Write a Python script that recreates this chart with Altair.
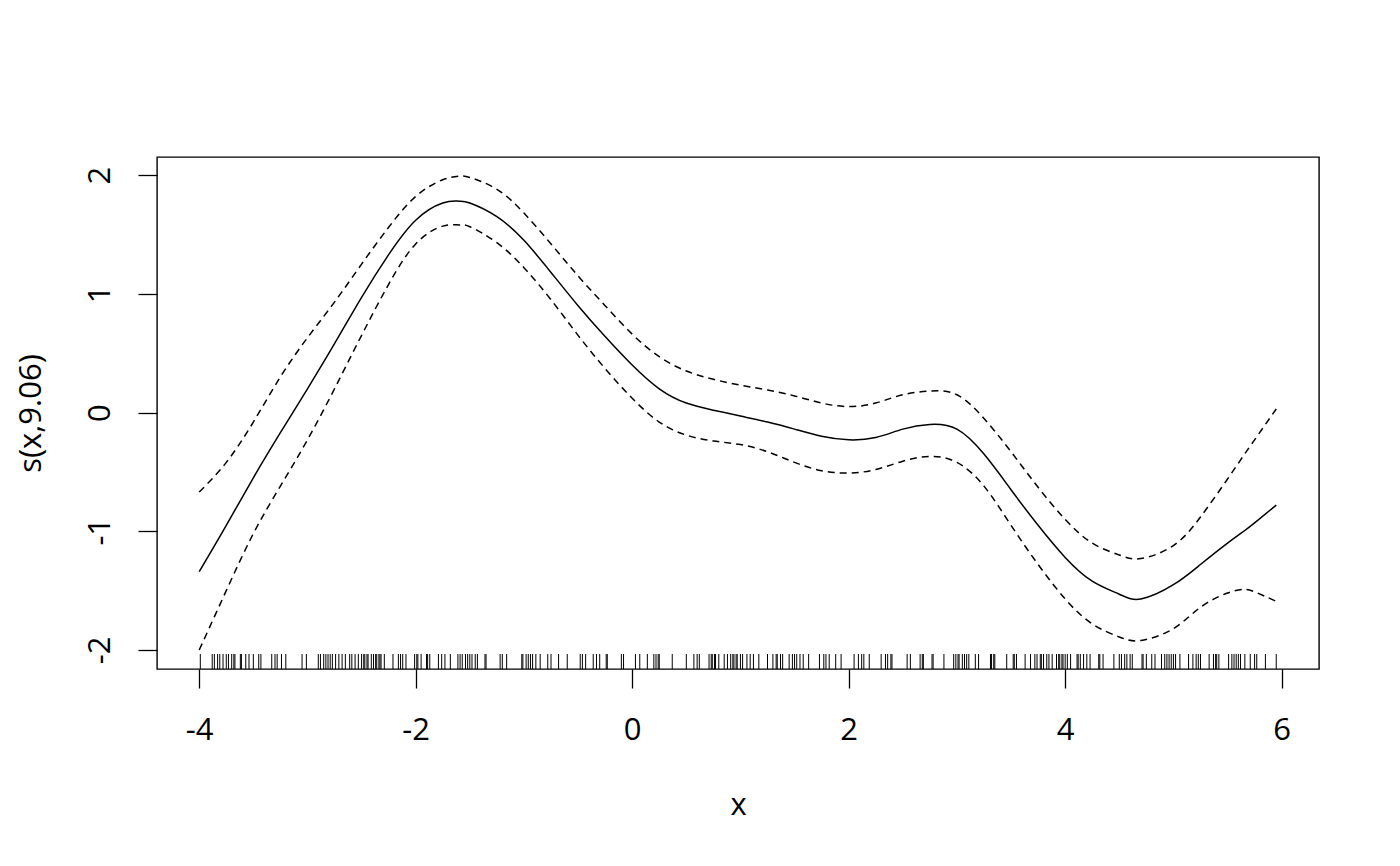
import altair as alt
import pandas as pd

# smooth term s(x, 9.06) and +/- 2 SE bands
x_grid = [-4.0, -3.75, -3.5, -3.25, -3.0, -2.75, -2.5, -2.25, -2.0, -1.75, -1.6, -1.5,
          -1.25, -1.0, -0.75, -0.5, -0.25, 0.0, 0.25, 0.5, 0.75, 1.0, 1.25, 1.5, 1.75,
          2.0, 2.25, 2.5, 2.75, 3.0, 3.25, 3.5, 3.75, 4.0, 4.25, 4.5, 4.7, 5.0, 5.25,
          5.5, 5.65, 5.75, 5.95]
fit = [-1.34, -0.95, -0.55, -0.17, 0.2, 0.58, 0.97, 1.33, 1.62, 1.765, 1.78, 1.765,
       1.65, 1.45, 1.18, 0.9, 0.64, 0.4, 0.2, 0.08, 0.02, -0.03, -0.08, -0.14, -0.2,
       -0.23, -0.21, -0.14, -0.1, -0.14, -0.35, -0.65, -0.95, -1.22, -1.42, -1.53, -1.57,
       -1.45, -1.28, -1.1, -1.0, -0.93, -0.78]
upper = [-0.67, -0.42, -0.08, 0.3, 0.63, 0.93, 1.25, 1.56, 1.82, 1.96, 1.99, 1.98,
         1.88, 1.68, 1.42, 1.15, 0.9, 0.66, 0.47, 0.35, 0.28, 0.23, 0.19, 0.14, 0.08,
         0.05, 0.08, 0.15, 0.18, 0.15, -0.05, -0.33, -0.63, -0.9, -1.1, -1.2, -1.23,
         -1.12, -0.88, -0.56, -0.36, -0.23, 0.03]
lower = [-2.0, -1.5, -1.02, -0.62, -0.23, 0.2, 0.65, 1.08, 1.42, 1.57, 1.58, 1.565,
         1.43, 1.22, 0.95, 0.65, 0.37, 0.12, -0.08, -0.19, -0.24, -0.27, -0.33, -0.42, -0.49,
         -0.51, -0.48, -0.41, -0.37, -0.42, -0.62, -0.95, -1.28, -1.57, -1.78, -1.89, -1.92,
         -1.82, -1.64, -1.52, -1.49, -1.51, -1.59]

# rug of observed x values
rug_x = [-3.99, -3.88, -3.86, -3.83, -3.81, -3.78, -3.75, -3.73, -3.70, -3.68, -3.67,
         -3.62, -3.61, -3.57, -3.54, -3.50, -3.45, -3.43, -3.33, -3.30, -3.28, -3.24,
         -3.20, -3.05, -3.01, -2.90, -2.88, -2.85, -2.83, -2.81, -2.79, -2.77, -2.74,
         -2.71, -2.68, -2.65, -2.61, -2.59, -2.56, -2.53, -2.50, -2.48, -2.47, -2.45,
         -2.44, -2.41, -2.39, -2.37, -2.36, -2.34, -2.33, -2.32, -2.29, -2.21, -2.16,
         -2.14, -2.12, -2.09, -2.01, -1.99, -1.98, -1.95, -1.90, -1.89, -1.87, -1.79,
         -1.76, -1.73, -1.68, -1.61, -1.59, -1.57, -1.54, -1.52, -1.50, -1.48, -1.45,
         -1.43, -1.36, -1.35, -1.22, -1.20, -1.16, -1.02, -1.01, -0.98, -0.96, -0.94,
         -0.92, -0.89, -0.85, -0.78, -0.75, -0.68, -0.60, -0.48, -0.46, -0.43, -0.36,
         -0.33, -0.30, -0.24, -0.23, -0.10, -0.08, 0.03, 0.07, 0.14, 0.20, 0.22, 0.24,
         0.25, 0.37, 0.50, 0.57, 0.60, 0.62, 0.71, 0.73, 0.74, 0.76, 0.77, 0.80, 0.85,
         0.88, 0.91, 0.93, 0.94, 0.96, 0.97, 1.00, 1.02, 1.06, 1.09, 1.12, 1.17, 1.25,
         1.30, 1.33, 1.34, 1.37, 1.39, 1.45, 1.48, 1.50, 1.52, 1.55, 1.58, 1.63, 1.73,
         1.77, 1.79, 1.82, 1.88, 1.93, 2.05, 2.09, 2.12, 2.14, 2.19, 2.30, 2.34, 2.36,
         2.39, 2.40, 2.54, 2.57, 2.66, 2.68, 2.69, 2.77, 2.78, 2.88, 2.97, 2.99, 3.01,
         3.02, 3.05, 3.07, 3.09, 3.11, 3.17, 3.20, 3.31, 3.32, 3.34, 3.35, 3.46, 3.52,
         3.53, 3.55, 3.63, 3.68, 3.72, 3.74, 3.77, 3.78, 3.80, 3.83, 3.85, 3.88, 3.92,
         3.94, 3.95, 3.97, 3.98, 4.00, 4.02, 4.05, 4.11, 4.12, 4.14, 4.17, 4.20, 4.23,
         4.31, 4.32, 4.35, 4.45, 4.50, 4.52, 4.55, 4.57, 4.60, 4.62, 4.71, 4.72, 4.75,
         4.80, 4.83, 4.89, 4.92, 4.94, 4.96, 4.98, 5.00, 5.02, 5.06, 5.14, 5.18, 5.21,
         5.23, 5.25, 5.33, 5.37, 5.39, 5.40, 5.42, 5.51, 5.54, 5.56, 5.58, 5.60, 5.62,
         5.66, 5.71, 5.75, 5.77, 5.85, 5.95]

x_ticks = [-4, -2, 0, 2, 4, 6]
y_ticks = [-2, -1, 0, 1, 2]
x_title = "x"
y_title = "s(x,9.06)"

fit_df = pd.DataFrame({"x": x_grid, "y": fit})
band_df = pd.concat([
    pd.DataFrame({"x": x_grid, "y": upper, "band": "upper"}),
    pd.DataFrame({"x": x_grid, "y": lower, "band": "lower"}),
])
rug_df = pd.DataFrame({"x": rug_x})

FONT = "Open Sans"
FS = 31
W, H = 1162, 512

xscale = alt.Scale(domain=[-4.39, 6.345], nice=False, zero=False)
yscale = alt.Scale(domain=[-2.16, 2.152], nice=False, zero=False)

xaxis = alt.Axis(values=x_ticks, title=x_title, domain=False, grid=False,
                 labelExpr="'' + datum.value",
                 tickSize=19, tickWidth=1.3, tickColor="black",
                 labelFont=FONT, labelFontSize=FS, labelColor="black",
                 labelPadding=27, labelFlush=False,
                 titleFont=FONT, titleFontSize=FS, titleFontWeight="normal",
                 titleColor="black", titleX=W / 2, titleY=145,
                 titleAlign="center", titleBaseline="alphabetic")
yaxis = alt.Axis(values=y_ticks, title=y_title, domain=False, grid=False,
                 labelExpr="'' + datum.value",
                 tickSize=19, tickWidth=1.3, tickColor="black",
                 labelFont=FONT, labelFontSize=FS, labelColor="black",
                 labelAngle=270, labelAlign="center", labelBaseline="alphabetic",
                 labelPadding=29, labelFlush=False,
                 titleFont=FONT, titleFontSize=FS, titleFontWeight="normal",
                 titleColor="black", titleAngle=270, titleX=-117, titleY=H / 2,
                 titleAlign="center", titleBaseline="alphabetic")

fit_line = alt.Chart(fit_df).mark_line(
    color="black", strokeWidth=1.5, interpolate="natural"
).encode(
    x=alt.X("x:Q", scale=xscale, axis=xaxis),
    y=alt.Y("y:Q", scale=yscale, axis=yaxis),
)

band_lines = alt.Chart(band_df).mark_line(
    color="black", strokeWidth=1.5, strokeDash=[7, 5], interpolate="natural"
).encode(
    x=alt.X("x:Q", scale=xscale),
    y=alt.Y("y:Q", scale=yscale),
    detail="band:N",
)

rug = alt.Chart(rug_df).mark_rule(color="black", strokeWidth=1).encode(
    x=alt.X("x:Q", scale=xscale),
    y=alt.value(H - 15),
    y2=alt.value(H),
)

chart = alt.layer(rug, band_lines, fit_line).properties(
    width=W, height=H,
    autosize=alt.AutoSizeParams(type="none"),
    padding={"left": 149, "top": 149, "right": 73, "bottom": 180},
    background="white",
).configure_view(
    stroke="black", strokeWidth=1.4, fill="white"
)

chart.save("out.html", embed_options={"renderer": "svg", "actions": False})
